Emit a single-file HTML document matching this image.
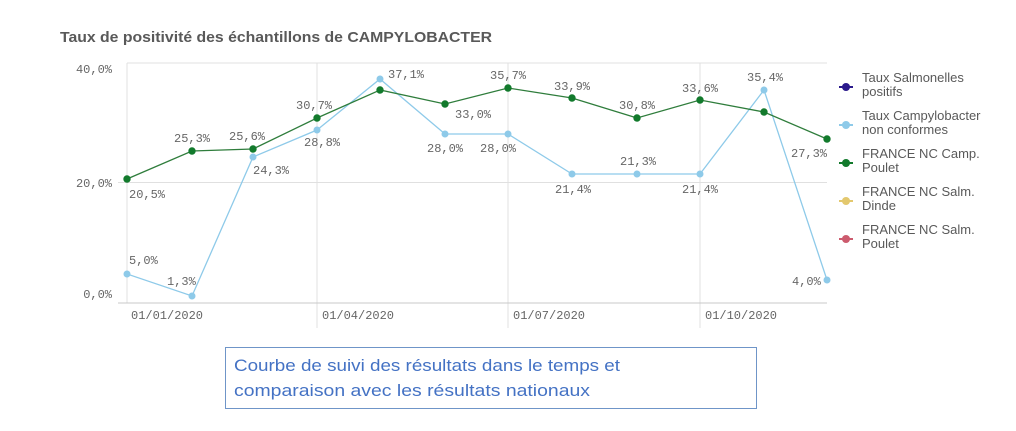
<!DOCTYPE html>
<html><head><meta charset="utf-8"><style>
html,body{margin:0;padding:0;background:#fff;width:1016px;height:431px;overflow:hidden}
svg{display:block}
.t{font-family:"Liberation Mono",monospace;font-size:12px;fill:#666}
.l{font-family:"Liberation Sans",sans-serif;font-size:13px;fill:#595959}
</style></head><body>
<svg width="1016" height="431" viewBox="0 0 1016 431" xmlns="http://www.w3.org/2000/svg">
<text x="60" y="42" font-family="Liberation Sans,sans-serif" font-weight="bold" font-size="15" fill="#595959" textLength="432" lengthAdjust="spacingAndGlyphs">Taux de positivité des échantillons de CAMPYLOBACTER</text>
<g stroke="#e0e0e0" stroke-width="1" fill="none">
<line x1="127" y1="63" x2="827" y2="63"/>
<line x1="127" y1="63" x2="127" y2="303"/>
<line x1="118" y1="182.5" x2="827" y2="182.5"/>
<line x1="317" y1="63" x2="317" y2="328"/>
<line x1="508" y1="63" x2="508" y2="328"/>
<line x1="700" y1="63" x2="700" y2="328"/>
</g>
<line x1="118" y1="303" x2="827" y2="303" stroke="#c8c8c8"/>
<text class="t" x="112" y="73" text-anchor="end">40,0%</text>
<text class="t" x="112" y="187" text-anchor="end">20,0%</text>
<text class="t" x="112" y="298" text-anchor="end">0,0%</text>
<text class="t" x="131" y="319">01/01/2020</text>
<text class="t" x="322" y="319">01/04/2020</text>
<text class="t" x="513" y="319">01/07/2020</text>
<text class="t" x="705" y="319">01/10/2020</text>
<polyline fill="none" stroke="#8ecae9" stroke-width="1.3" points="127,274 192,296 253,157 317,130 380,79 445,134 508,134 572,174 637,174 700,174 764,90 827,280"/>
<g fill="#8ecae9">
<circle cx="127" cy="274" r="3.5"/><circle cx="192" cy="296" r="3.5"/><circle cx="253" cy="157" r="3.5"/><circle cx="317" cy="130" r="3.5"/><circle cx="380" cy="79" r="3.5"/><circle cx="445" cy="134" r="3.5"/><circle cx="508" cy="134" r="3.5"/><circle cx="572" cy="174" r="3.5"/><circle cx="637" cy="174" r="3.5"/><circle cx="700" cy="174" r="3.5"/><circle cx="764" cy="90" r="3.5"/><circle cx="827" cy="280" r="3.5"/>
</g>
<polyline fill="none" stroke="#2f7d3c" stroke-width="1.3" points="127,179 192,151 253,149 317,118 380,90 445,104 508,88 572,98 637,118 700,100 764,112 827,139"/>
<g fill="#127a2c">
<circle cx="127" cy="179" r="3.7"/><circle cx="192" cy="151" r="3.7"/><circle cx="253" cy="149" r="3.7"/><circle cx="317" cy="118" r="3.7"/><circle cx="380" cy="90" r="3.7"/><circle cx="445" cy="104" r="3.7"/><circle cx="508" cy="88" r="3.7"/><circle cx="572" cy="98" r="3.7"/><circle cx="637" cy="118" r="3.7"/><circle cx="700" cy="100" r="3.7"/><circle cx="764" cy="112" r="3.7"/><circle cx="827" cy="139" r="3.7"/>
</g>
<g class="t">
<text x="129" y="198">20,5%</text>
<text x="174" y="142">25,3%</text>
<text x="229" y="140">25,6%</text>
<text x="296" y="109">30,7%</text>
<text x="455" y="118">33,0%</text>
<text x="490" y="79">35,7%</text>
<text x="554" y="90">33,9%</text>
<text x="619" y="109">30,8%</text>
<text x="682" y="92">33,6%</text>
<text x="791" y="157">27,3%</text>
<text x="129" y="264">5,0%</text>
<text x="167" y="285">1,3%</text>
<text x="253" y="174">24,3%</text>
<text x="304" y="146">28,8%</text>
<text x="388" y="78">37,1%</text>
<text x="427" y="152">28,0%</text>
<text x="480" y="152">28,0%</text>
<text x="555" y="193">21,4%</text>
<text x="620" y="165">21,3%</text>
<text x="682" y="193">21,4%</text>
<text x="747" y="81">35,4%</text>
<text x="792" y="285">4,0%</text>
</g>
<g>
<line x1="839" y1="87" x2="853" y2="87" stroke="#2b1a8c" stroke-width="2"/><circle cx="846" cy="87" r="4" fill="#2b1a8c"/>
<line x1="839" y1="125" x2="853" y2="125" stroke="#8ecae9" stroke-width="2"/><circle cx="846" cy="125" r="4" fill="#8ecae9"/>
<line x1="839" y1="163" x2="853" y2="163" stroke="#127a2c" stroke-width="2"/><circle cx="846" cy="163" r="4" fill="#127a2c"/>
<line x1="839" y1="201" x2="853" y2="201" stroke="#e3c86e" stroke-width="2"/><circle cx="846" cy="201" r="4" fill="#e3c86e"/>
<line x1="839" y1="239" x2="853" y2="239" stroke="#cc5b6e" stroke-width="2"/><circle cx="846" cy="239" r="4" fill="#cc5b6e"/>
</g>
<g class="l">
<text x="862" y="82">Taux Salmonelles</text><text x="862" y="96">positifs</text>
<text x="862" y="120">Taux Campylobacter</text><text x="862" y="134">non conformes</text>
<text x="862" y="158">FRANCE NC Camp.</text><text x="862" y="172">Poulet</text>
<text x="862" y="196">FRANCE NC Salm.</text><text x="862" y="210">Dinde</text>
<text x="862" y="234">FRANCE NC Salm.</text><text x="862" y="248">Poulet</text>
</g>
<rect x="225.5" y="347.5" width="531" height="61" fill="#fff" stroke="#6f95c8" stroke-width="1"/>
<g font-family="Liberation Sans,sans-serif" font-size="16.5" fill="#4472c4">
<text x="234" y="371" textLength="386" lengthAdjust="spacingAndGlyphs">Courbe de suivi des résultats dans le temps et</text>
<text x="234" y="396" textLength="356" lengthAdjust="spacingAndGlyphs">comparaison avec les résultats nationaux</text>
</g>
</svg>
</body></html>
